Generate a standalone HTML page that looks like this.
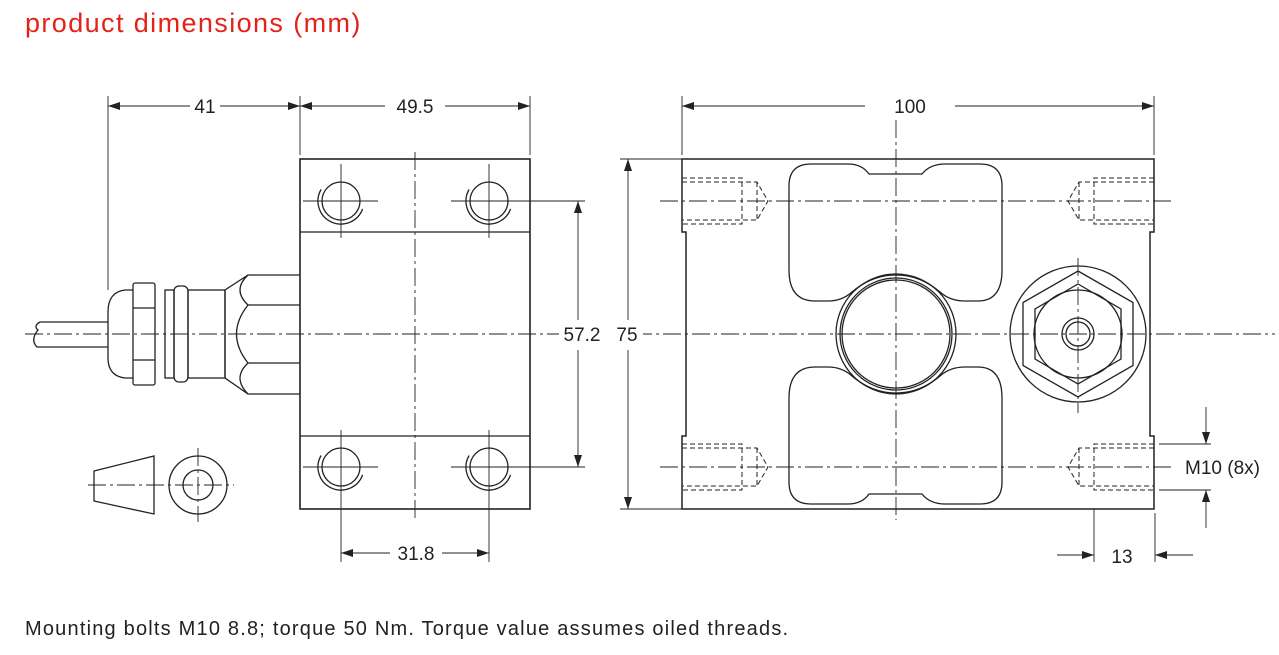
<!DOCTYPE html>
<html><head><meta charset="utf-8"><style>
html,body{margin:0;padding:0;background:#fff;width:1279px;height:655px;overflow:hidden}
svg{position:absolute;left:0;top:0}
text{font-family:"Liberation Sans",sans-serif;fill:#222}
</style></head><body>
<svg width="1279" height="655" viewBox="0 0 1279 655">
<defs>
<marker id="a" markerWidth="12" markerHeight="8" refX="12" refY="4" orient="auto" markerUnits="userSpaceOnUse"><path d="M0,0L12,4L0,8z" fill="#222"/></marker>
</defs>
<text x="25" y="32" font-size="27" letter-spacing="1.4" style="fill:#e2231a">product dimensions (mm)</text>
<text x="25" y="635" font-size="20" letter-spacing="1.2">Mounting bolts M10 8.8; torque 50 Nm. Torque value assumes oiled threads.</text>

<g stroke="#222" stroke-width="1" fill="none">
<g stroke-dasharray="18,4,3,4" stroke-width="0.9">
<line x1="25" y1="334" x2="1275" y2="334"/>
<line x1="415" y1="152" x2="415" y2="520"/>
<line x1="896" y1="120" x2="896" y2="520"/>
<line x1="660" y1="201" x2="1175" y2="201"/>
<line x1="660" y1="467" x2="1175" y2="467"/>
<line x1="1078" y1="258" x2="1078" y2="413"/>
<line x1="88" y1="485" x2="234" y2="485"/>
<line x1="198" y1="448" x2="198" y2="522"/>
</g>
<rect x="300" y="159" width="230" height="350" stroke-width="1.6"/>
<line x1="300" y1="232" x2="530" y2="232" stroke-width="1.3"/>
<line x1="300" y1="436" x2="530" y2="436" stroke-width="1.3"/>
<g stroke-width="1.3">
<circle cx="341" cy="201" r="19"/><circle cx="489" cy="201" r="19"/>
<circle cx="341" cy="467" r="19"/><circle cx="489" cy="467" r="19"/>
<path d="M321.1,189.5 A23,23 0 1 0 362.6,208.9"/>
<path d="M469.1,189.5 A23,23 0 1 0 510.6,208.9"/>
<path d="M321.1,455.5 A23,23 0 1 0 362.6,474.9"/>
<path d="M469.1,455.5 A23,23 0 1 0 510.6,474.9"/>
</g>
<g stroke-width="0.9">
<line x1="303" y1="201" x2="378" y2="201"/><line x1="341" y1="164" x2="341" y2="238"/>
<line x1="451" y1="201" x2="585" y2="201"/><line x1="489" y1="164" x2="489" y2="238"/>
<line x1="303" y1="467" x2="378" y2="467"/><line x1="341" y1="430" x2="341" y2="562"/>
<line x1="451" y1="467" x2="585" y2="467"/><line x1="489" y1="430" x2="489" y2="562"/>
</g>
<g stroke-width="1.3">
<path d="M300,275 H248 L225,290 V378 L248,394 H300"/>
<line x1="248" y1="305" x2="300" y2="305"/><line x1="248" y1="363" x2="300" y2="363"/>
<path d="M248,275 Q232,290 248,305"/><path d="M248,363 Q232,378 248,394"/>
<path d="M248,305 Q225,334 248,363"/>
<rect x="188" y="290" width="37" height="88"/>
<rect x="174" y="286" width="14" height="96" rx="5"/>
<rect x="165" y="290" width="9" height="88"/>
<rect x="133" y="283" width="22" height="102" rx="2"/>
<line x1="133" y1="308" x2="155" y2="308"/><line x1="133" y1="360" x2="155" y2="360"/>
<path d="M133,290 H125 Q108,292 108,312 V358 Q108,376 125,378 H133"/>
<path d="M108,322 H40 Q33,326 38,330 Q30,340 37,347 H108"/>
<path d="M94,471 L154,456 V514 L94,501 Z"/>
<circle cx="198" cy="485" r="29"/><circle cx="198" cy="485" r="15"/>
</g>
<g stroke-width="1.5">
<path d="M682,159 H1154 V232 H1150 V436 H1154 V509 H682 V436 H686 V232 H682 Z"/>
<path d="M789,186 Q789,164 811,164 H848 Q862,164 869,174 H922 Q930,164 945,164 H980 Q1002,164 1002,186 V270 Q1002,301 978,301 H965 Q950,301 940,292 Q920,275 896,275 Q872,275 852,292 Q842,301 828,301 H815 Q789,301 789,270 Z" stroke-width="1.3"/>
<path d="M789,482 Q789,504 811,504 H848 Q862,504 869,494 H922 Q930,504 945,504 H980 Q1002,504 1002,482 V398 Q1002,367 978,367 H965 Q950,367 940,376 Q920,393 896,393 Q872,393 852,376 Q842,367 828,367 H815 Q789,367 789,398 Z" stroke-width="1.3"/>
</g>
<g stroke-width="1.3">
<circle cx="896" cy="334" r="60"/><circle cx="896" cy="334" r="56"/><circle cx="896" cy="334" r="54"/>
<circle cx="1078" cy="334" r="68"/>
<polygon points="1078,271 1133,302.5 1133,365.5 1078,397 1023,365.5 1023,302.5"/>
<polygon points="1078,284 1121,309 1121,359 1078,384 1035,359 1035,309"/>
<circle cx="1078" cy="334" r="44"/>
<circle cx="1078" cy="334" r="16"/><circle cx="1078" cy="334" r="12"/>
</g>
<g stroke-width="1" stroke-dasharray="5,3">
<path d="M682,178 H742 V224 H682 M682,182 H757 L768,201 L757,220 H682 M757,182 V220"/>
<path d="M682,444 H742 V490 H682 M682,448 H757 L768,467 L757,486 H682 M757,448 V486"/>
<path d="M1154,178 H1094 V224 H1154 M1154,182 H1079 L1068,201 L1079,220 H1154 M1079,182 V220"/>
<path d="M1154,444 H1094 V490 H1154 M1154,448 H1079 L1068,467 L1079,486 H1154 M1079,448 V486"/>
</g>
<g stroke-width="0.9">
<line x1="108" y1="96" x2="108" y2="290"/>
<line x1="300" y1="96" x2="300" y2="155"/>
<line x1="530" y1="96" x2="530" y2="155"/>
<line x1="682" y1="96" x2="682" y2="155"/>
<line x1="1154" y1="96" x2="1154" y2="155"/>
<line x1="190" y1="106" x2="108" y2="106" marker-end="url(#a)"/>
<line x1="220" y1="106" x2="300" y2="106" marker-end="url(#a)"/>
<line x1="385" y1="106" x2="300" y2="106" marker-end="url(#a)"/>
<line x1="445" y1="106" x2="530" y2="106" marker-end="url(#a)"/>
<line x1="865" y1="106" x2="682" y2="106" marker-end="url(#a)"/>
<line x1="955" y1="106" x2="1154" y2="106" marker-end="url(#a)"/>
<line x1="578" y1="320" x2="578" y2="201" marker-end="url(#a)"/>
<line x1="578" y1="350" x2="578" y2="467" marker-end="url(#a)"/>
<line x1="620" y1="159" x2="682" y2="159"/>
<line x1="620" y1="509" x2="682" y2="509"/>
<line x1="628" y1="320" x2="628" y2="159" marker-end="url(#a)"/>
<line x1="628" y1="350" x2="628" y2="509" marker-end="url(#a)"/>
<line x1="390" y1="553" x2="341" y2="553" marker-end="url(#a)"/>
<line x1="442" y1="553" x2="489" y2="553" marker-end="url(#a)"/>
<line x1="1159" y1="444" x2="1211" y2="444"/>
<line x1="1159" y1="490" x2="1211" y2="490"/>
<line x1="1206" y1="407" x2="1206" y2="444" marker-end="url(#a)"/>
<line x1="1206" y1="528" x2="1206" y2="490" marker-end="url(#a)"/>
<line x1="1094" y1="509" x2="1094" y2="562"/>
<line x1="1155" y1="513" x2="1155" y2="562"/>
<line x1="1057" y1="555" x2="1094" y2="555" marker-end="url(#a)"/>
<line x1="1193" y1="555" x2="1155" y2="555" marker-end="url(#a)"/>
</g>
</g>
<g font-size="19">
<text x="205" y="113" text-anchor="middle">41</text>
<text x="415" y="113" text-anchor="middle">49.5</text>
<text x="910" y="113" text-anchor="middle">100</text>
<rect x="559" y="320" width="84" height="28" fill="#fff"/>
<text x="582" y="341" text-anchor="middle">57.2</text>
<text x="627" y="341" text-anchor="middle">75</text>
<text x="416" y="560" text-anchor="middle">31.8</text>
<text x="1122" y="563" text-anchor="middle">13</text>
<text x="1185" y="474">M10 (8x)</text>
</g>
</svg>
</body></html>
